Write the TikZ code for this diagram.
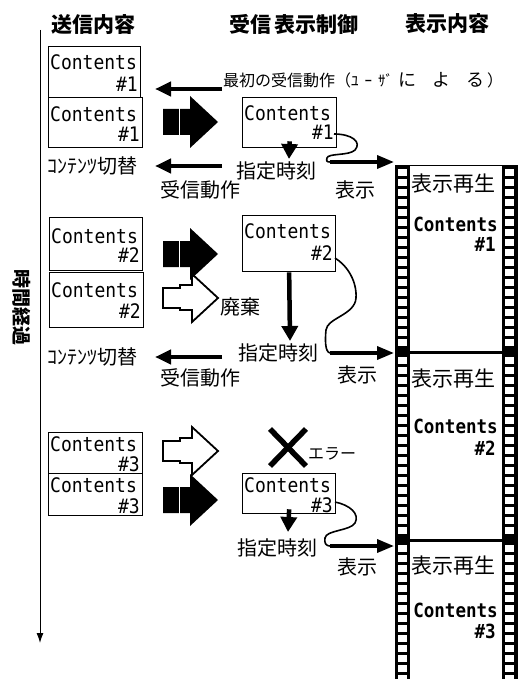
\documentclass[tikz,border=0pt]{standalone}
\usepackage{fontspec}
\setmainfont{Noto Sans CJK JP}
\newfontfamily\monof[FakeStretch=0.9]{DejaVu Sans Mono}
\usetikzlibrary{arrows.meta,calc}
\newcommand\fsz[1]{\fontsize{#1}{#1}\selectfont}
\newcommand\mkbox[8]{%
  \node[cbox, minimum width={(#4-#2)*1pt}, minimum height={(#5-#3)*1pt}] (#1) at (#2,#3) {};
  \node[ctext, anchor=base west] (#1c) at (#2+2,#3+#7) {Contents};
  \node[ctext, anchor=base east] (#1n) at (#4-2,#5-#8) {\##6};
}
\newcommand\blackarr[1]{%
  \fill[black] (163,#1-13) -- (190,#1-13) -- (190,#1-26) -- (218,#1) -- (190,#1+26) -- (190,#1+13) -- (163,#1+13) -- cycle;
  \draw[white, line width=1pt] (179,#1-14) -- (179,#1+14);
}
\newcommand\whitearr[1]{%
  \draw[line width=1.8pt, line join=miter] (163,#1-10) -- (180,#1-10) -- (180,#1-13) -- (192,#1-13) -- (192,#1-24) -- (218,#1) -- (192,#1+24) -- (192,#1+12) -- (180,#1+12) -- (180,#1+10) -- (163,#1+10) -- cycle;
}
\newcommand\filmtext[5]{% name label-y contents-baseline num-baseline num
  \node[jtxt, anchor=west, font=\fsz{21}] (#1a) at (411,#2) {表示再生};
  \node[ftext, anchor=base east] (#1b) at (498,#3) {Contents};
  \node[ftext, anchor=base east] (#1c) at (496,#4) {\##5};
}
\begin{document}
\begin{tikzpicture}[x=1pt,y=-1pt,
  cbox/.style={draw, line width=1.3pt, inner sep=0pt, anchor=north west},
  ctext/.style={font=\monof\fsz{20}, inner sep=0pt, text height=14pt, text depth=0pt},
  ftext/.style={font=\monof\bfseries\fsz{19.5}, inner sep=0pt, text height=14pt, text depth=0pt},
  jtxt/.style={inner sep=0pt, font=\fsz{20}},
  hdr/.style={inner sep=0pt, font=\bfseries\fsz{21}},
  larrow/.style={line width=4pt, -{Triangle[length=16pt,width=14pt]}},
  darrow/.style={line width=4.5pt, -{Triangle[length=15pt,width=16pt]}},
  farrow/.style={line width=3.5pt, -{Triangle[length=17pt,width=13pt]}},
  swirl/.style={line width=1.6pt},
]
\useasboundingbox (0,0) rectangle (518,679);
\fill[white] (0,0) rectangle (518,679);

% headers
\node[hdr] (h1) at (93,25) {送信内容};
\node[hdr] (h2) at (294,24) {受信\hspace{4pt}表示制御};
\node[hdr] (h3) at (447,24) {表示内容};

% time axis
\coordinate (t0) at (40,30);
\coordinate (t1) at (40,643);
\draw[line width=1pt, -{Latex[length=10pt,width=7pt]}] (t0) -- (t1);
\node[inner sep=0pt, font=\bfseries\fsz{19}, rotate=-90] (tl) at (22,307) {時間経過};

% left boxes
\mkbox{L1a}{48}{46}{140}{97}{1}{24}{5}
\mkbox{L1b}{48}{97}{142}{147}{1}{25}{5}
\mkbox{L2a}{49}{217}{142}{270}{2}{26}{8}
\mkbox{L2b}{49}{272}{143}{327}{2}{25}{9}
\mkbox{L3a}{48}{432}{142}{473}{3}{19}{2}
\mkbox{L3b}{48}{473}{142}{515}{3}{19}{2}
% receiving boxes
\mkbox{R1}{242}{97}{336}{147}{1}{24}{7}
\mkbox{R2}{242}{215}{335}{271}{2}{23}{11}
\mkbox{R3}{242}{473}{335}{513}{3}{19}{1}

% block arrows
\blackarr{122}
\blackarr{254}
\whitearr{298}
\whitearr{451}
\blackarr{500}

% left thin arrows
\coordinate (a1s) at (222,89);  \coordinate (a1e) at (155,89);
\coordinate (a2s) at (222,166); \coordinate (a2e) at (155,166);
\coordinate (a3s) at (222,357); \coordinate (a3e) at (155,357);
\draw[larrow] (a1s) -- (a1e);
\draw[larrow] (a2s) -- (a2e);
\draw[larrow] (a3s) -- (a3e);

% texts
\node[inner sep=0pt, anchor=west] (first) at (223,80) {\fsz{16}最初の受信動作（\fsz{15}ﾕ\hspace{6pt}ｰ\hspace{6pt}ｻﾞ\hspace{5pt}\fsz{18}に\hspace{16pt}よ\hspace{16pt}る\hspace{3pt}\fsz{16}）};
\node[jtxt, anchor=west] (sw1) at (47,166) {ｺﾝﾃﾝﾂ切替};
\node[jtxt, anchor=west] (sw2) at (47,357) {ｺﾝﾃﾝﾂ切替};
\node[jtxt, anchor=west] (ju1) at (160,190) {受信動作};
\node[jtxt, anchor=west] (ju2) at (160,378) {受信動作};
\node[jtxt, anchor=west] (sj1) at (236,171) {指定時刻};
\node[jtxt, anchor=west] (sj2) at (238,353) {指定時刻};
\node[jtxt, anchor=west] (sj3) at (237,548) {指定時刻};
\node[jtxt] (hy1) at (355,190) {表示};
\node[jtxt] (hy2) at (357,375) {表示};
\node[jtxt] (hy3) at (357,567) {表示};
\node[jtxt, anchor=west] (haiki) at (220,307) {廃棄};
\node[inner sep=0pt, anchor=west, font=\fsz{16}] (err) at (308,454) {エラー};

% X mark
\coordinate (x1) at (270,429); \coordinate (x2) at (306,466);
\coordinate (x3) at (306,429); \coordinate (x4) at (270,466);
\draw[line width=5.5pt] (x1) -- (x2);
\draw[line width=5.5pt] (x3) -- (x4);

% down arrows
\coordinate (d1e) at (289,159);
\coordinate (d2e) at (290,341);
\coordinate (d3e) at (288,532);
\draw[darrow] ([yshift=7pt]R1.south) -- (d1e);
\draw[darrow] (R2.south) -- (d2e);
\draw[darrow] ([yshift=5pt]R3.south) -- (d3e);

% film strip
\fill[black] (395,165) rectangle (410,679);
\fill[black] (502,165) rectangle (518,679);
\foreach \y in {169,179,...,339} {\fill[white] (397.5,\y) rectangle (406.5,\y+6.5); \fill[white] (505,\y) rectangle (514,\y+6.5);}
\foreach \y in {357,367,...,527} {\fill[white] (397.5,\y) rectangle (406.5,\y+6.5); \fill[white] (505,\y) rectangle (514,\y+6.5);}
\foreach \y in {545,555,...,675} {\fill[white] (397.5,\y) rectangle (406.5,\y+6.5); \fill[white] (505,\y) rectangle (514,\y+6.5);}
\node[inner sep=0pt, minimum width=92pt, minimum height=187pt, anchor=north west] (fr1) at (410,165) {};
\node[inner sep=0pt, minimum width=92pt, minimum height=188pt, anchor=north west] (fr2) at (410,352) {};
\node[inner sep=0pt, minimum width=92pt, minimum height=139pt, anchor=north west] (fr3) at (410,540) {};
\draw[line width=1.5pt] (395,165.5) -- (518,165.5);
\draw[line width=3pt] (395,352) -- (518,352);
\draw[line width=3pt] (395,540) -- (518,540);
\filmtext{F1}{184}{231}{251}{1}
\filmtext{F2}{379}{433}{455}{2}
\filmtext{F3}{566}{617}{638}{3}

% curved connectors to film
\coordinate (c1a) at (334,134); \coordinate (c1b) at (330,162); \coordinate (f1) at (394,162);
\coordinate (c2a) at (335,258); \coordinate (c2b) at (330,353); \coordinate (f2) at (394,353);
\coordinate (c3a) at (335,502); \coordinate (c3b) at (330,546); \coordinate (f3) at (394,546);
\draw[swirl] (c1a) .. controls (352,134) and (362,142) .. (355,150) .. controls (349,156) and (328,153) .. (327,158) .. controls (326,161) and (327,162) .. (c1b);
\draw[swirl] (c2a) .. controls (348,266) and (357,282) .. (356,298) .. controls (355,315) and (327,318) .. (326,330) .. controls (325,340) and (325,352) .. (c2b);
\draw[swirl] (c3a) .. controls (350,505) and (360,514) .. (355,523) .. controls (350,531) and (326,530) .. (325,538) .. controls (324,543) and (326,546) .. (c3b);
\draw[farrow] (c1b) -- (f1);
\draw[farrow] (c2b) -- (f2);
\draw[farrow] (c3b) -- (f3);
\end{tikzpicture}
\end{document}
